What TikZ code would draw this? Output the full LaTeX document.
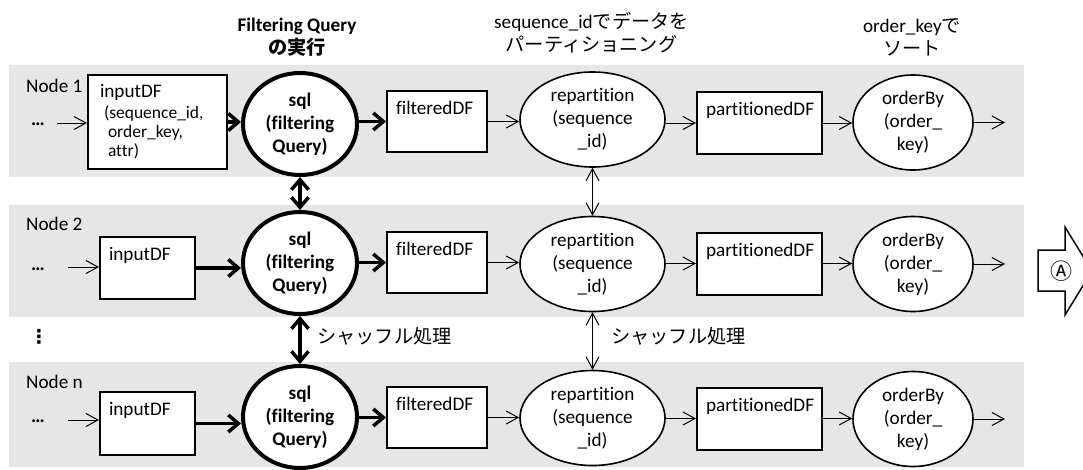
\documentclass[tikz,border=0pt]{standalone}
\usepackage{fontspec}
\setmainfont{Carlito}[Ligatures=NoCommon]
\newfontfamily\jp{Noto Sans CJK JP}
\newfontfamily\symf{DejaVu Sans}
\usetikzlibrary{arrows.meta,shapes.geometric}

\definecolor{bandgray}{RGB}{230,230,230}

% text of a data-frame box, set at its upper left corner
\newcommand\dfc[3]{\parbox[c][#2][t]{#1}{\hspace*{9pt}\rule{0pt}{23.5pt}#3}}

\tikzset{
  band/.style={fill=bandgray, draw=none},
  dfbox/.style={rectangle, draw, line width=2pt, fill=white, inner sep=0pt},
  sqlnode/.style={ellipse, draw, line width=4pt, fill=white, inner sep=0pt,
    minimum width=114pt, minimum height=102pt, align=center,
    font=\fontsize{19.2}{23}\selectfont\bfseries},
  opnode/.style={ellipse, draw, line width=1.6pt, fill=white, inner sep=0pt,
    align=center},
  repnode/.style={opnode, minimum width=145pt, minimum height=95pt},
  ordnode/.style={opnode, minimum width=120pt, minimum height=95pt},
  plain/.style={inner sep=0pt},
  hdr/.style={align=center, inner sep=0pt},
  thinarrow/.style={line width=1pt, -{Straight Barb[length=12pt,width=13pt]}},
  thickarrow/.style={line width=3.5pt, -{Straight Barb[length=10pt,width=17pt]}},
  thickboth/.style={line width=3.5pt, {Straight Barb[length=10pt,width=17pt]}-{Straight Barb[length=10pt,width=17pt]}},
  thinboth/.style={line width=1pt, {Straight Barb[length=12pt,width=13pt]}-{Straight Barb[length=12pt,width=13pt]}},
}

\begin{document}
\begin{tikzpicture}[x=1pt,y=-1pt,font=\fontsize{19.2}{23}\selectfont]
\useasboundingbox (0,0) rectangle (1083,469);
\clip (0,0) rectangle (1083,469);

% node bands
\fill[band] (9,65) rectangle (1024,177);
\fill[band] (9,205) rectangle (1024,317);
\fill[band] (9,362) rectangle (1024,467);

% column headers
\node[hdr, font=\fontsize{19.2}{23}\selectfont\bfseries] (h1) at (297,37) {Filtering Query\\{\jp の実行}};
\node[hdr] (h2) at (591.5,33) {sequence\_id{\jp でデータを}\\{\jp パーティショニング}};
\node[hdr] (h3) at (912,37) {order\_key{\jp で}\\{\jp ソート}};

% row labels
\node[plain, anchor=base west] (n1) at (26,92) {Node 1};
\node[plain, anchor=base west] (n2) at (26,230) {Node 2};
\node[plain, anchor=base west] (n3) at (26,388) {Node n};
\node[plain] (vd) at (39,337) {\symf\bfseries ⋮};

% incoming data
\node[plain, anchor=base west] (d1) at (31,125) {\bfseries …};
\node[plain, anchor=base west] (d2) at (31,270) {\bfseries …};
\node[plain, anchor=base west] (d3) at (31,422) {\bfseries …};
\coordinate (s1) at (57,123);
\coordinate (s2) at (68,267);
\coordinate (s3) at (68,420);

% row 1
\node[dfbox] (in1) at (157.5,122) {\parbox[c][94pt][t]{139pt}{\hspace*{12pt}\rule{0pt}{22.5pt}inputDF\\[1.5pt]
  \fontsize{17.5}{19}\selectfont\hspace*{16pt}(sequence\_id,\\
  \hspace*{20pt}order\_key,\\
  \hspace*{20pt}attr)}};
\node[sqlnode] (sql1) at (300,124) {sql\\(filtering\\Query)};
\node[dfbox] (f1) at (437,121.5) {\dfc{100pt}{61pt}{filteredDF}};
\node[repnode] (rep1) at (592.5,119.5) {repartition\\(sequence\\\_id)};
\node[dfbox] (p1) at (759.5,123) {\dfc{125pt}{62pt}{partitionedDF}};
\node[ordnode] (ob1) at (913,122.5) {orderBy\\(order\_\\key)};
\coordinate (o1) at (1005,122.5);

% row 2
\node[dfbox] (in2) at (147.5,268) {\dfc{95pt}{62pt}{inputDF}};
\node[sqlnode] (sql2) at (300,263) {sql\\(filtering\\Query)};
\node[dfbox] (f2) at (437,262.5) {\dfc{100pt}{61pt}{filteredDF}};
\node[repnode] (rep2) at (592.5,264) {repartition\\(sequence\\\_id)};
\node[dfbox] (p2) at (759.5,263.5) {\dfc{125pt}{62pt}{partitionedDF}};
\node[ordnode] (ob2) at (913,264) {orderBy\\(order\_\\key)};
\coordinate (o2) at (1005,264);

% row n
\node[dfbox] (in3) at (147.5,423.5) {\dfc{95pt}{63pt}{inputDF}};
\node[sqlnode] (sql3) at (300,417) {sql\\(filtering\\Query)};
\node[dfbox] (f3) at (437,417.5) {\dfc{100pt}{61pt}{filteredDF}};
\node[repnode] (rep3) at (592.5,418) {repartition\\(sequence\\\_id)};
\node[dfbox] (p3) at (759.5,418.5) {\dfc{125pt}{62pt}{partitionedDF}};
\node[ordnode] (ob3) at (913,419) {orderBy\\(order\_\\key)};
\coordinate (o3) at (1005,419);

% flow within each row
\foreach \r in {1,2,3}{
  \draw[thinarrow] (s\r) -- (s\r -| in\r.west);
  \draw[thickarrow] (in\r.east) -- (in\r.east -| sql\r.west);
  \draw[thickarrow] (f\r.west -| sql\r.east) -- (f\r.west);
  \draw[thinarrow] (f\r.east) -- (f\r.east -| rep\r.west);
  \draw[thinarrow] (p\r.west -| rep\r.east) -- (p\r.west);
  \draw[thinarrow] (p\r.east) -- (p\r.east -| ob\r.west);
  \draw[thinarrow] (ob\r.east) -- (o\r);
}

% exchange between nodes
\draw[thickboth] (sql1.south) -- (sql2.north);
\draw[thickboth] (sql2.south) -- (sql3.north);
\draw[thinboth] (rep1.south) -- (rep2.north);
\draw[thinboth] (rep2.south) -- (rep3.north);
\node[plain, anchor=west] (sh1) at (317,336) {\jp シャッフル処理};
\node[plain, anchor=west] (sh2) at (611,336) {\jp シャッフル処理};

% continuation arrow
\draw[line width=1.5pt, fill=white, line join=miter]
  (1038,250) -- (1065,250) -- (1065,227) -- (1092,271) -- (1065,315)
  -- (1065,291) -- (1038,291) -- cycle;
\node[plain] (ca) at (1061,271) {\jp\fontsize{22}{22}\selectfont Ⓐ};
\end{tikzpicture}
\end{document}
